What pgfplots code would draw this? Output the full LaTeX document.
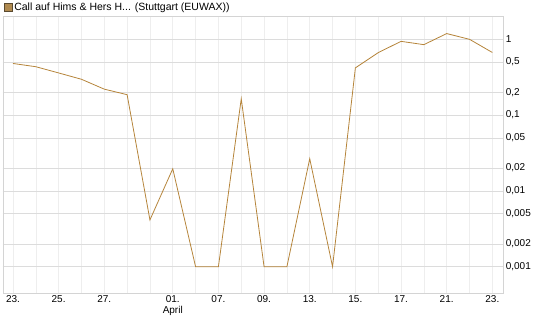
\documentclass[border=0pt]{standalone}
\usepackage{fontspec}
\setmainfont{Liberation Sans}
\usepackage{pgfplots}
\pgfplotsset{compat=1.18}
\definecolor{linec}{HTML}{B5843A}
\definecolor{sqfill}{HTML}{B08A50}
\definecolor{sqdraw}{HTML}{5A4A30}
\definecolor{hgrid}{HTML}{DCDCDC}
\definecolor{vgrid}{HTML}{EEEEEE}
\definecolor{frame}{HTML}{D4D4D4}
\begin{document}
\begin{tikzpicture}[x=1pt,y=1pt]
\path[use as bounding box] (0,0) rectangle (545,327);
\begin{axis}[
  at={(2.7pt,34.3pt)}, anchor=south west,
  scale only axis, width=500.6pt, height=276.7pt,
  ymode=log, ymin=4.54e-4, ymax=2.03,
  xmin=-0.45, xmax=21.48,
  axis line style={frame},
  xtick={0,...,21},
  xticklabels={23.,,25.,,27.,,,{01.\\April},,07.,,09.,,13.,,15.,,17.,,21.,,23.},
  xticklabel style={align=center, font=\fontsize{10}{11.5}\selectfont, text=black, yshift=1pt},
  ytick={0.001,0.002,0.005,0.01,0.02,0.05,0.1,0.2,0.5,1},
  yticklabels={{0,001},{0,002},{0,005},{0,01},{0,02},{0,05},{0,1},{0,2},{0,5},{1}},
  yticklabel pos=right,
  yticklabel style={anchor=west, xshift=-1pt, font=\fontsize{10}{11.5}\selectfont, text=black},
  minor ytick={},
  xmajorgrids, ymajorgrids,
  x grid style={vgrid, line width=0.6pt},
  y grid style={hgrid, line width=0.6pt},
  major tick length=0pt,
  tick style={draw=none},
  legend style={at={(0,1)}, anchor=south west, xshift=0pt, yshift=1pt, draw=none, fill=none,
    font=\fontsize{10.5}{12}\selectfont, inner sep=1pt, row sep=0pt},
  legend image code/.code={\draw[fill=sqfill, draw=sqdraw, line width=0.4pt] (0pt,-3.8pt) rectangle (8pt,4.2pt);},
  legend cell align=left,
]
\addplot[linec, line width=0.8pt] coordinates {
(0,0.48) (1,0.435) (2,0.36) (3,0.297) (4,0.22) (5,0.186)
(6,0.00414) (7,0.0196) (8,0.001) (9,0.001) (10,0.164) (11,0.001)
(12,0.001) (13,0.0266) (14,0.001) (15,0.42) (16,0.667) (17,0.94)
(18,0.85) (19,1.19) (20,1.0) (21,0.67)
};
\addlegendentry{Call auf Hims \& Hers H... (Stuttgart (EUWAX))}
\end{axis}
\end{tikzpicture}
\end{document}
